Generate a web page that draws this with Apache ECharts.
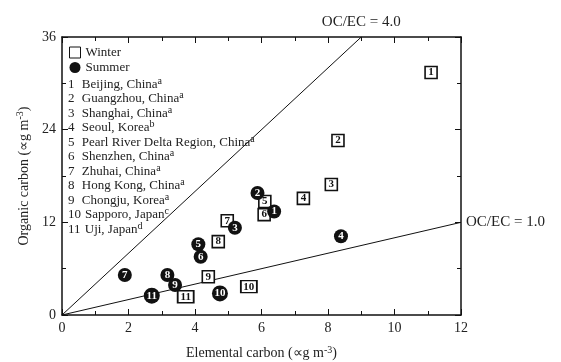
<!DOCTYPE html>
<html>
<head>
<meta charset="utf-8">
<script src="https://cdn.jsdelivr.net/npm/echarts@6/dist/echarts.min.js"></script>
<style>html,body{margin:0;padding:0;background:#fff}#c{width:561px;height:362px}</style>
</head>
<body>
<div id="c"></div>
<script>
// ---- data ----
const siteNumbers = [1,2,3,4,5,6,7,8,9,10,11];
const siteNames = ["Beijing, China","Guangzhou, China","Shanghai, China","Seoul, Korea","Pearl River Delta Region, China","Shenzhen, China","Zhuhai, China","Hong Kong, China","Chongju, Korea","Sapporo, Japan","Uji, Japan"];
const siteNotes = ["a","a","a","b","a","a","a","a","a","c","d"];
const winterEC = [11.1, 8.3, 8.1, 7.26, 6.1, 6.08, 4.97, 4.7, 4.4, 5.62, 3.72];
const winterOC = [31.4, 22.6, 16.9, 15.1, 14.7, 13.0, 12.2, 9.5, 4.96, 3.67, 2.37];
const summerEC = [6.38, 5.88, 5.2, 8.39, 4.1, 4.17, 1.89, 3.17, 3.4, 4.75, 2.7];
const summerOC = [13.4, 15.8, 11.3, 10.2, 9.16, 7.55, 5.18, 5.18, 3.89, 2.8, 2.5];
const ratios = [4.0, 1.0];
const ratioLabels = ["OC/EC = 4.0", "OC/EC = 1.0"];
const xTicks = [0,2,4,6,8,10,12];
const yTicks = [0,12,24,36];

const FONT = "Liberation Serif";
const INK = "#111";
const chart = echarts.init(document.getElementById('c'));

const xMax = 12, yMax = 36;
function ratioLine(r) {
  const xEnd = Math.min(xMax, yMax / r);
  return [[0,0],[xEnd, xEnd*r]];
}

const winterData = winterEC.map((x,i)=>({value:[x, winterOC[i]], num: siteNumbers[i]}));
const summerData = summerEC.map((x,i)=>({value:[x, summerOC[i]], num: siteNumbers[i]}));

const lineSeries = ratios.map((r,k)=>({
  type:'line', silent:true, clip:false, symbol:'none', showSymbol:false,
  lineStyle:{color:INK, width:1},
  data: ratioLine(r),
  endLabel: k===0
    ? {show:true, formatter:ratioLabels[k], distance:0, offset:[0,-15], align:'center',
       fontFamily:FONT, fontSize:15, color:'#222'}
    : {show:true, formatter:ratioLabels[k], distance:5,
       fontFamily:FONT, fontSize:15, color:'#222'},
  z:1
}));

const siteGraphics = siteNames.map((n,i)=>({
  type:'text', left:68, top: 76 + i*14.5,
  style:{
    text:`{n|${siteNumbers[i]}}{t|${n}}{s|${siteNotes[i]}}`,
    rich:{
      n:{width:15, align:'center', fontFamily:FONT, fontSize:13, fill:'#222'},
      t:{fontFamily:FONT, fontSize:13, fill:'#222', padding:[0,0,0,3]},
      s:{fontFamily:FONT, fontSize:10, fill:'#222', verticalAlign:'top', padding:[0,0,7,0]}
    }
  }
}));

chart.setOption({
  animation:false,
  backgroundColor:'#fff',
  grid:{left:62, right:100, top:37, bottom:47, outerBoundsMode:'none', containLabel:false},
  legend:{
    orient:'vertical', left:69, top:46, padding:0, itemGap:2, itemWidth:11, itemHeight:11,
    textStyle:{fontFamily:FONT, fontSize:13, color:'#222', lineHeight:13, padding:[0,0,0,0]},
    data:[{name:'Winter', icon:'rect', itemStyle:{borderWidth:1}},{name:'Summer', icon:'circle'}]
  },
  graphic: siteGraphics,
  xAxis:[{
    type:'value', min:0, max:12, interval:2, position:'bottom',
    name:'Elemental carbon (∝g m{s|-3})', nameLocation:'middle', nameGap:30,
    nameTextStyle:{fontFamily:FONT, fontSize:14, color:'#222',
      rich:{s:{fontFamily:FONT, fontSize:10, color:'#222', verticalAlign:'top', padding:[0,0,7,0]}}},
    axisLine:{show:true, lineStyle:{color:INK, width:1.5}},
    axisTick:{show:true, inside:true, length:6, lineStyle:{color:INK, width:1}},
    minorTick:{show:true, splitNumber:2, length:4, lineStyle:{color:INK, width:1}},
    splitLine:{show:false},
    axisLabel:{fontFamily:FONT, fontSize:14, color:'#222', margin:6}
  },{
    type:'value', min:0, max:12, interval:2, position:'top',
    axisLine:{show:true, onZero:false, lineStyle:{color:INK, width:1.5}},
    axisTick:{show:true, inside:true, length:6, lineStyle:{color:INK, width:1}},
    minorTick:{show:true, splitNumber:2, length:4, lineStyle:{color:INK, width:1}},
    splitLine:{show:false}, axisLabel:{show:false}
  }],
  yAxis:[{
    type:'value', min:0, max:36, interval:12, position:'left',
    name:'Organic carbon (∝g m{s|-3})', nameLocation:'middle', nameGap:26, nameRotate:90,
    nameTextStyle:{fontFamily:FONT, fontSize:14, color:'#222',
      rich:{s:{fontFamily:FONT, fontSize:10, color:'#222', verticalAlign:'top', padding:[0,0,7,0]}}},
    axisLine:{show:true, onZero:false, lineStyle:{color:INK, width:1.5}},
    axisTick:{show:true, inside:true, length:6, lineStyle:{color:INK, width:1}},
    minorTick:{show:true, splitNumber:2, length:4, lineStyle:{color:INK, width:1}},
    splitLine:{show:false},
    axisLabel:{fontFamily:FONT, fontSize:14, color:'#222', margin:6,
      formatter:v=>yTicks.includes(v)?String(v):''}
  },{
    type:'value', min:0, max:36, interval:12, position:'right',
    axisLine:{show:true, onZero:false, lineStyle:{color:INK, width:1.5}},
    axisTick:{show:true, inside:true, length:6, lineStyle:{color:INK, width:1}},
    minorTick:{show:true, splitNumber:2, length:4, lineStyle:{color:INK, width:1}},
    splitLine:{show:false}, axisLabel:{show:false}
  }],
  series:[
    ...lineSeries,
    {
      name:'Winter', type:'scatter', data:winterData, z:3,
      symbol:'rect',
      symbolSize:(v,p)=> p.data.num>=10 ? [16,12] : [12,12],
      itemStyle:{color:'#fff', borderColor:INK, borderWidth:1.6, opacity:1},
      label:{show:true, position:'inside', formatter:p=>String(p.data.num),
        fontFamily:FONT, fontWeight:'bold', fontSize:11, color:INK}
    },
    {
      name:'Summer', type:'scatter', data:summerData, z:4,
      symbol:'circle',
      symbolSize:(v,p)=> p.data.num>=10 ? 16 : 14,
      itemStyle:{color:INK, borderColor:INK, borderWidth:0, opacity:1},
      label:{show:true, position:'inside', formatter:p=>String(p.data.num),
        fontFamily:FONT, fontWeight:'bold', fontSize:11, color:'#fff'}
    }
  ]
});
</script>
</body>
</html>
